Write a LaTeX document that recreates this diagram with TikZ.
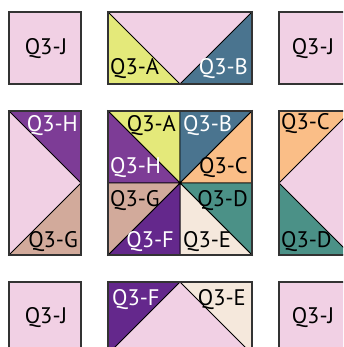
\documentclass[tikz,border=0pt]{standalone}
\usepackage{fontspec}
\setmainfont{PT Sans}
\usetikzlibrary{positioning}
\definecolor{QPink}{RGB}{241,208,228}
\definecolor{QLime}{RGB}{228,233,122}
\definecolor{QSteel}{RGB}{74,116,143}
\definecolor{QPlum}{RGB}{125,60,150}
\definecolor{QGrape}{RGB}{100,40,140}
\definecolor{QPeach}{RGB}{250,190,135}
\definecolor{QTeal}{RGB}{75,145,135}
\definecolor{QTan}{RGB}{210,170,155}
\definecolor{QCream}{RGB}{245,232,220}
\tikzset{
  patch/.style={draw=black,line width=0.9pt,line join=miter},
  block/.style={draw=black!80,line width=1.5pt},
  lbl/.style={inner sep=0pt,font=\fontsize{22.5}{26}\selectfont},
  lblw/.style={lbl,text=white},
}

\begin{document}
\begin{tikzpicture}[x=1pt,y=-1pt]
\useasboundingbox (0,0) rectangle (343,347);
\clip (0,0) rectangle (343,347);
% plain squares
\fill[QPink] (9,12) rectangle (81,84);
\fill[QPink] (279,12) rectangle (351,84);
\fill[QPink] (9,282) rectangle (81,354);
\fill[QPink] (279,282) rectangle (351,354);
\draw[block] (9,12) rectangle (81,84);
\draw[block] (279,12) rectangle (351,84);
\draw[block] (9,282) rectangle (81,354);
\draw[block] (279,282) rectangle (351,354);
\node[lbl] (j1) at (46,49) {Q3-J};
\node[lbl] (j2) at (313,49) {Q3-J};
\node[lbl] (j3) at (46,318) {Q3-J};
\node[lbl] (j4) at (313,318) {Q3-J};
% top flying geese
\fill[QPink] (108,12) rectangle (252,84);
\filldraw[patch,fill=QLime] (108,12) -- (180,84) -- (108,84) -- cycle;
\filldraw[patch,fill=QSteel] (252,12) -- (252,84) -- (180,84) -- cycle;
\draw[block] (108,12) rectangle (252,84);
\node[lbl,anchor=base west] (ta) at (110,75) {Q3-A};
\node[lblw,anchor=base east] (tb) at (248,75) {Q3-B};
% left flying geese
\fill[QPink] (9,111) rectangle (81,255);
\filldraw[patch,fill=QPlum] (9,111) -- (81,111) -- (81,183) -- cycle;
\filldraw[patch,fill=QTan] (81,183) -- (81,255) -- (9,255) -- cycle;
\draw[block] (9,111) rectangle (81,255);
\node[lblw,anchor=base east] (lh) at (78,132) {Q3-H};
\node[lbl,anchor=base east] (lg) at (78,247) {Q3-G};
% right flying geese
\fill[QPink] (279,111) rectangle (351,255);
\filldraw[patch,fill=QPeach] (279,111) -- (351,111) -- (279,183) -- cycle;
\filldraw[patch,fill=QTeal] (279,183) -- (351,255) -- (279,255) -- cycle;
\draw[block] (279,111) rectangle (351,255);
\node[lbl,anchor=base west] (rc) at (281,130) {Q3-C};
\node[lbl,anchor=base west] (rd) at (281,247) {Q3-D};
% bottom flying geese
\fill[QPink] (108,282) rectangle (252,354);
\filldraw[patch,fill=QGrape] (108,282) -- (180,282) -- (108,354) -- cycle;
\filldraw[patch,fill=QCream] (180,282) -- (252,282) -- (252,354) -- cycle;
\draw[block] (108,282) rectangle (252,354);
\node[lblw,anchor=base west] (bf) at (112,305) {Q3-F};
\node[lbl,anchor=base east] (be) at (246,305) {Q3-E};
% centre pinwheel
\coordinate (c) at (180,183);
\filldraw[patch,fill=QLime] (108,111) -- (180,111) -- (c) -- cycle;
\filldraw[patch,fill=QPlum] (108,111) -- (108,183) -- (c) -- cycle;
\filldraw[patch,fill=QSteel] (180,111) -- (252,111) -- (c) -- cycle;
\filldraw[patch,fill=QPeach] (252,111) -- (252,183) -- (c) -- cycle;
\filldraw[patch,fill=QTeal] (252,183) -- (252,255) -- (c) -- cycle;
\filldraw[patch,fill=QCream] (252,255) -- (180,255) -- (c) -- cycle;
\filldraw[patch,fill=QGrape] (180,255) -- (108,255) -- (c) -- cycle;
\filldraw[patch,fill=QTan] (108,255) -- (108,183) -- (c) -- cycle;
\fill (c) circle (1.5);
\draw[block] (108,111) rectangle (252,255);
\node[lbl,anchor=base east] (ma) at (176,132) {Q3-A};
\node[lblw,anchor=base west] (mb) at (183,132) {Q3-B};
\node[lblw,anchor=base west] (mh) at (110,174) {Q3-H};
\node[lbl,anchor=base east] (mc) at (248,174) {Q3-C};
\node[lbl,anchor=base west] (mg) at (110,206) {Q3-G};
\node[lbl,anchor=base east] (md) at (248,206) {Q3-D};
\node[lblw,anchor=base east] (mf) at (174,247) {Q3-F};
\node[lbl,anchor=base west] (me) at (183,247) {Q3-E};
\end{tikzpicture}
\end{document}
